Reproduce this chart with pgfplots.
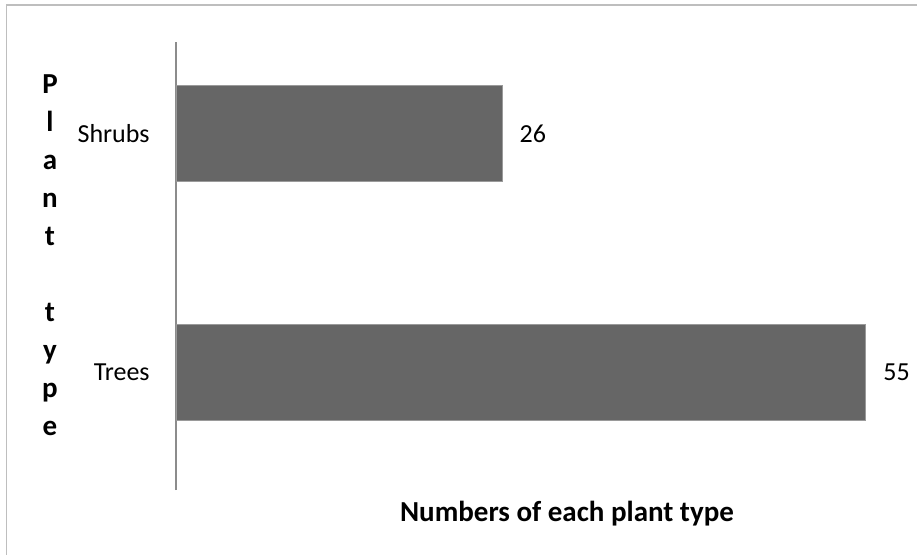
\documentclass[border=0pt]{standalone}
\usepackage{fontspec}
\setmainfont{Carlito}
\usepackage{pgfplots}
\pgfplotsset{compat=1.18}

\definecolor{barfill}{HTML}{666666}
\definecolor{baredge}{HTML}{9A9A9A}
\definecolor{axisgray}{HTML}{8C8C8C}
\definecolor{framegray}{HTML}{BEBEBE}

\begin{document}
\begin{tikzpicture}
  \useasboundingbox (0,0) rectangle (458.5pt,277pt);
  % outer chart frame (only top and left edges fall inside the picture)
  \draw[framegray, line width=0.8pt] (3.3pt,-5pt) -- (3.3pt,274.5pt) -- (470pt,274.5pt);

  \begin{axis}[
    at={(88pt,32pt)}, anchor=south west,
    scale only axis, width=351.25pt, height=224pt,
    xbar, bar width=48pt, bar shift=0pt,
    xmin=0, xmax=56,
    ymin=-0.4916, ymax=1.383,
    axis x line=none,
    axis y line*=left,
    y axis line style={-, draw=axisgray, line width=0.9pt},
    ytick={0,1}, yticklabels={Trees,Shrubs},
    major tick length=0pt,
    yticklabel style={anchor=east, inner sep=0pt, xshift=-13pt,
      font=\fontsize{13}{15}\selectfont},
    /pgf/number format/assume math mode=true,
    nodes near coords,
    nodes near coords style={anchor=west, inner sep=0pt, xshift=8.5pt,
      font=\fontsize{13}{15}\selectfont, black},
    clip=false,
  ]
    \addplot[fill=barfill, draw=baredge, line width=0.5pt]
      coordinates {(55,0) (26,1)};
  \end{axis}

  % stacked axis title
  \foreach \ch [count=\i] in {P,l,a,n,t,{},t,y,p,e}
    \node[anchor=base, inner sep=0pt, font=\bfseries\fontsize{14.5}{17}\selectfont]
      at (25pt, 230.5pt-\i*19pt+19pt) {\ch};

  \node[anchor=base, inner sep=0pt, font=\bfseries\fontsize{14.5}{17}\selectfont]
    at (283.5pt,16.2pt) {Numbers of each plant type};
\end{tikzpicture}
\end{document}
